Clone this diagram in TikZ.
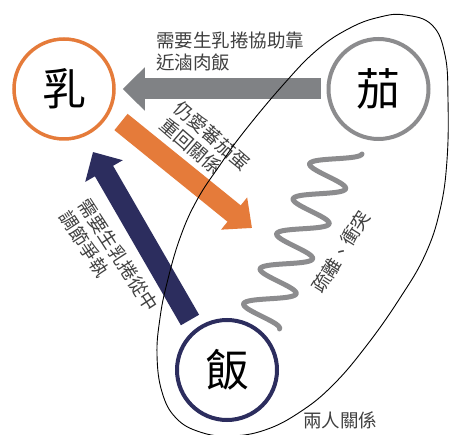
\documentclass[tikz,border=0pt]{standalone}
\usepackage{fontspec}
\newfontfamily\cjk{Noto Sans CJK TC}
\usetikzlibrary{arrows.meta}
\definecolor{cOrange}{HTML}{E57B3A}
\definecolor{cGray}{HTML}{808285}
\definecolor{cGrayC}{HTML}{8C8C8E}
\definecolor{cNavy}{HTML}{2C2D5E}
\definecolor{cText}{HTML}{404040}
\tikzset{
 bigchar/.style={circle, draw, line width=4pt, minimum size=100pt, inner sep=0pt,
   font=\cjk\fontsize{44}{44}\selectfont, text=black},
 fatarrow/.style={line width=21pt, -{Triangle[width=42pt,length=22pt]}},
 lbl/.style={font=\cjk\fontsize{18.5}{22}\selectfont, text=cText, align=left, inner sep=0pt},
 wavy/.style={draw=cGrayC, line width=5pt, line cap=round},
 relation/.style={draw=black, line width=0.9pt},
}
\begin{document}
\begin{tikzpicture}[x=1pt,y=-1pt]
\path[fill=white] (0,0) rectangle (449,435);
\useasboundingbox (0,0) rectangle (449,435);
% nodes
\node[bigchar, draw=cOrange, line width=3.5pt] (ru) at (64,89) {乳};
\node[bigchar, draw=cGrayC] (qie) at (378.5,89) {茄};
\node[bigchar, draw=cNavy] (fan) at (227,370) {飯};
% arrows
\draw[fatarrow, draw=cGray, fill=cGray, shorten <=6pt, shorten >=7pt] (qie) -- (ru);
\coordinate (otail) at (121,122);
\coordinate (otip) at (252,228);
\draw[fatarrow, draw=cOrange, fill=cOrange, -{Triangle[width=40pt,length=23pt]}] (otail) -- (otip);
\coordinate (ntail) at (190,320);
\coordinate (ntip) at (93,152);
\draw[fatarrow, draw=cNavy, fill=cNavy] (ntail) -- (ntip);
% wave
\draw[wavy] plot[domain=0:5, samples=180, smooth, variable=\t]
  ({340 - 16.5*\t + 22*cos(360*\t)}, {150 + 35*\t + 4*cos(360*\t)});
% labels
\node[lbl] (tq) at (230,52) {需要生乳捲協助靠\\近滷肉飯};
\node[lbl, rotate=-41] (tr) at (205,144) {仍愛蕃茄蛋\\重回關係};
\node[lbl, rotate=-57] (tf) at (109,261) {需要生乳捲從中\\調節爭執};
\node[lbl, rotate=58] (td) at (341,252) {疏離、衝突};
\node[lbl] (tp) at (340,420) {兩人關係};
% relation outline
\draw[relation] plot[smooth cycle, tension=0.7] coordinates {
 (405,15) (432,25) (445,55) (448,100) (447,160) (440,210) (425,255) (400,298)
 (367,345) (333,385) (300,412) (265,430) (230,436) (200,432) (176,418) (162,392)
 (157,355) (160,318) (167,283) (180,238) (197,200) (220,165) (243,133) (283,85)
 (317,50) (350,28) (380,17)};
\end{tikzpicture}
\end{document}
